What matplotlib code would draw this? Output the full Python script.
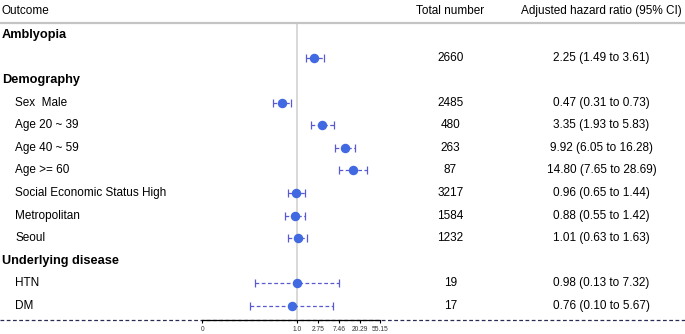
import numpy as np
import matplotlib
matplotlib.use("Agg")
import matplotlib.pyplot as plt
from matplotlib import transforms

plt.rcParams["font.family"] = ["Liberation Sans", "DejaVu Sans"]

# rows of the table (None = no estimate on that row)
labels = ["Amblyopia", "", "Demography", "Sex  Male", "Age 20 ~ 39", "Age 40 ~ 59",
          "Age >= 60", "Social Economic Status High", "Metropolitan", "Seoul",
          "Underlying disease", "HTN", "DM"]
is_group = [True, False, True, False, False, False, False, False, False, False,
            True, False, False]
totals = ["", "2660", "", "2485", "480", "263", "87", "3217", "1584", "1232",
          "", "19", "17"]
hr = [None, 2.25, None, 0.47, 3.35, 9.92, 14.80, 0.96, 0.88, 1.01, None, 0.98, 0.76]
lo = [None, 1.49, None, 0.31, 1.93, 6.05, 7.65, 0.65, 0.55, 0.63, None, 0.13, 0.10]
hi = [None, 3.61, None, 0.73, 5.83, 16.28, 28.69, 1.44, 1.42, 1.63, None, 7.32, 5.67]

tick_labels = ["0", "1.0", "2.75", "7.46", "20.29", "55.15"]
tick_vals = [0.01, 1.0, 2.75, 7.46, 20.29, 55.15]

W, H = 685, 334
X0, SCALE = 297.3, 20.7      # pixel of HR=1 and pixels per log unit
AX_H = 320
ROW0, ROWH = 35, 22.58


def px(x):
    return x / W


fig = plt.figure(figsize=(W / 100, H / 100), dpi=100)
ax = fig.add_axes([0, (H - AX_H) / H, 1, AX_H / H])
ax.set_xlim(-X0 / SCALE, (W - X0) / SCALE)
ax.set_ylim(AX_H, 0)
tr = transforms.blended_transform_factory(ax.transAxes, ax.transData)

# header
ax.text(px(2), 11, "Outcome", transform=tr, fontsize=8.5, va="center", ha="left")
ax.text(px(450.5), 11, "Total number", transform=tr, fontsize=8.5, va="center", ha="center")
ax.text(px(601.5), 11, "Adjusted hazard ratio (95% CI)", transform=tr, fontsize=8.5,
        va="center", ha="center")
ax.plot([0, 1], [23, 23], transform=tr, color="#c4c4c4", lw=1.6, clip_on=False)

# reference line at HR = 1
ax.plot([0, 0], [23, AX_H], color="#d6d6d6", lw=1.3, zorder=1)

ys = ROW0 + ROWH * np.arange(len(labels))
for i, y in enumerate(ys):
    if is_group[i]:
        ax.text(px(2), y, labels[i], transform=tr, fontsize=9.2, fontweight="bold",
                va="center", ha="left")
    elif labels[i]:
        ax.text(px(15), y, labels[i], transform=tr, fontsize=8.5, va="center", ha="left")
    if totals[i]:
        ax.text(px(450.5), y, totals[i], transform=tr, fontsize=8.5, va="center", ha="center")
    if hr[i] is not None:
        ax.text(px(601.5), y, f"{hr[i]:.2f} ({lo[i]:.2f} to {hi[i]:.2f})", transform=tr,
                fontsize=8.5, va="center", ha="center")
        c = np.log(hr[i])
        eb = ax.errorbar([c], [y], xerr=[[c - np.log(lo[i])], [np.log(hi[i]) - c]],
                         fmt="o", color="#4169e1", ms=5.8, ecolor="#5a5ad0",
                         elinewidth=0.9, capsize=3, capthick=0.9, zorder=3)
        eb[2][0].set_linestyle((0, (3, 2)))
        for cap in eb[1]:
            cap.set_color("#25258f")

# bottom axis
for s in ["top", "left", "right"]:
    ax.spines[s].set_visible(False)
ax.axhline(AX_H, color="#2a2a55", lw=0.9, ls=(0, (3, 2)), clip_on=False, zorder=0)
tick_pos = [np.log(v) for v in tick_vals]
tick_pos[0] = -4.6
ax.spines["bottom"].set_bounds(tick_pos[0], tick_pos[-1])
ax.spines["bottom"].set_linewidth(0.9)
ax.spines["bottom"].set_zorder(2)
ax.set_xticks(tick_pos)
ax.set_xticklabels(tick_labels, fontsize=4.8, color="#333333")
ax.tick_params(axis="x", length=2.5, width=0.8, pad=2)
ax.set_yticks([])

fig.savefig("out.png", dpi=100)
